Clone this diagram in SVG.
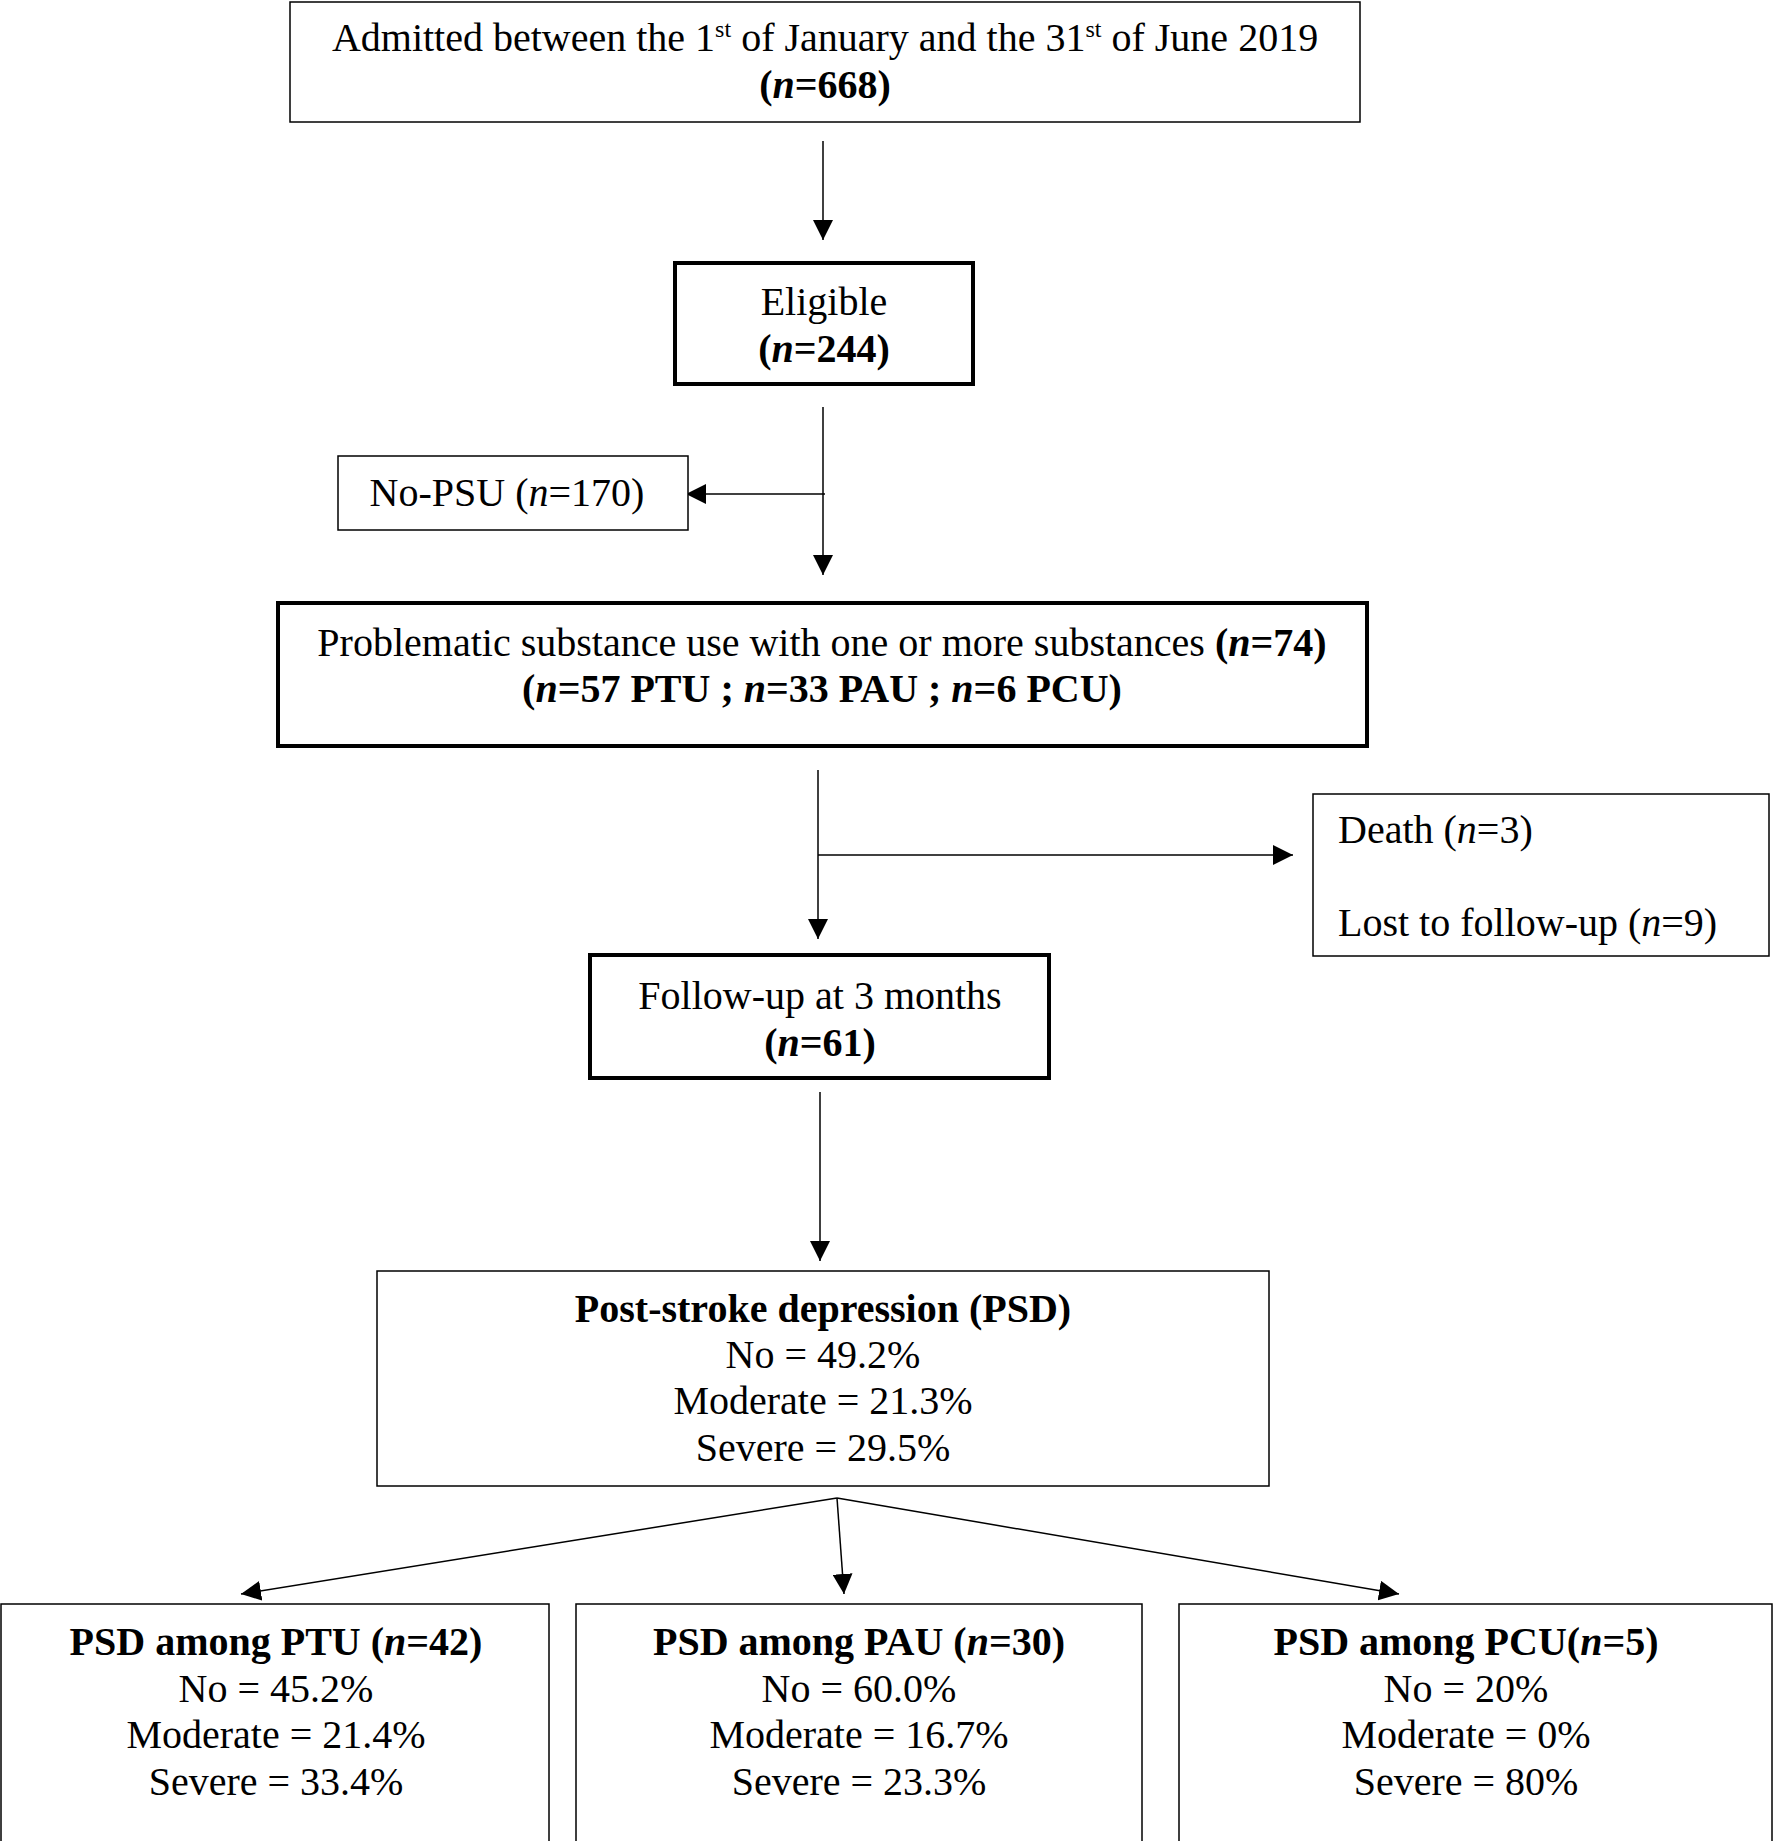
<svg xmlns="http://www.w3.org/2000/svg" width="1773" height="1841" viewBox="0 0 1773 1841">
<style>
text{font-family:"Liberation Serif","Times New Roman",serif;font-size:40px;fill:#000;text-anchor:middle}
.b{font-weight:bold}
.l{text-anchor:start}
.thin{fill:#fff;stroke:#000;stroke-width:1.5}
.thick{fill:#fff;stroke:#000;stroke-width:4}
.c{stroke:#000;stroke-width:1.5;fill:none}
</style>
<defs><marker id="a" viewBox="0 0 10 10" refX="10" refY="5" markerWidth="20" markerHeight="20" markerUnits="userSpaceOnUse" orient="auto"><path d="M0,0L10,5L0,10z" fill="#000"/></marker></defs>
<rect width="1773" height="1841" fill="#fff"/>
<g id="connectors">
<line class="c" x1="823" y1="141" x2="823" y2="240" marker-end="url(#a)"/>
<line class="c" x1="823" y1="407" x2="823" y2="575" marker-end="url(#a)"/>
<line class="c" x1="825" y1="494" x2="686" y2="494" marker-end="url(#a)"/>
<line class="c" x1="818" y1="770" x2="818" y2="939" marker-end="url(#a)"/>
<line class="c" x1="818" y1="855" x2="1293" y2="855" marker-end="url(#a)"/>
<line class="c" x1="820" y1="1092" x2="820" y2="1261" marker-end="url(#a)"/>
<line class="c" x1="837" y1="1498" x2="241" y2="1594" marker-end="url(#a)"/>
<line class="c" x1="837" y1="1498" x2="844" y2="1594" marker-end="url(#a)"/>
<line class="c" x1="837" y1="1498" x2="1399" y2="1594" marker-end="url(#a)"/>
</g>
<g id="admitted"><rect class="thin" x="290" y="2" width="1070" height="120"/>
<text x="825" y="51">Admitted between the 1<tspan font-size="24" dy="-14">st</tspan><tspan dy="14"> of January and the 31</tspan><tspan font-size="24" dy="-14">st</tspan><tspan dy="14"> of June 2019</tspan></text>
<text x="825" y="98" class="b">(<tspan font-style="italic">n</tspan>=668)</text></g>
<g id="eligible"><rect class="thick" x="675" y="263" width="298" height="121"/>
<text x="824" y="315">Eligible</text><text x="824" y="362" class="b">(<tspan font-style="italic">n</tspan>=244)</text></g>
<g id="nopsu"><rect class="thin" x="338" y="456" width="350" height="74"/>
<text x="507" y="506">No-PSU (<tspan font-style="italic">n</tspan>=170)</text></g>
<g id="psu"><rect class="thick" x="278" y="603" width="1089" height="143"/>
<text x="822" y="656">Problematic substance use with one or more substances <tspan class="b">(<tspan font-style="italic">n</tspan>=74)</tspan></text>
<text x="822" y="702" class="b">(<tspan font-style="italic">n</tspan>=57 PTU ; <tspan font-style="italic">n</tspan>=33 PAU ; <tspan font-style="italic">n</tspan>=6 PCU)</text></g>
<g id="death"><rect class="thin" x="1313" y="794" width="456" height="162"/>
<text x="1338" y="843" class="l">Death (<tspan font-style="italic">n</tspan>=3)</text>
<text x="1338" y="936" class="l">Lost to follow-up (<tspan font-style="italic">n</tspan>=9)</text></g>
<g id="followup"><rect class="thick" x="590" y="955" width="459" height="123"/>
<text x="820" y="1009">Follow-up at 3 months</text><text x="820" y="1056" class="b">(<tspan font-style="italic">n</tspan>=61)</text></g>
<g id="psd"><rect class="thin" x="377" y="1271" width="892" height="215"/>
<text x="823" y="1322" class="b">Post-stroke depression (PSD)</text>
<text x="823" y="1368">No = 49.2%</text><text x="823" y="1414">Moderate = 21.3%</text><text x="823" y="1461">Severe = 29.5%</text></g>
<g id="ptu"><rect class="thin" x="1" y="1604" width="548" height="240"/>
<text x="276" y="1655" class="b">PSD among PTU (<tspan font-style="italic">n</tspan>=42)</text>
<text x="276" y="1702">No = 45.2%</text><text x="276" y="1748">Moderate = 21.4%</text><text x="276" y="1795">Severe = 33.4%</text></g>
<g id="pau"><rect class="thin" x="576" y="1604" width="566" height="240"/>
<text x="859" y="1655" class="b">PSD among PAU (<tspan font-style="italic">n</tspan>=30)</text>
<text x="859" y="1702">No = 60.0%</text><text x="859" y="1748">Moderate = 16.7%</text><text x="859" y="1795">Severe = 23.3%</text></g>
<g id="pcu"><rect class="thin" x="1179" y="1604" width="593" height="240"/>
<text x="1466" y="1655" class="b">PSD among PCU(<tspan font-style="italic">n</tspan>=5)</text>
<text x="1466" y="1702">No = 20%</text><text x="1466" y="1748">Moderate = 0%</text><text x="1466" y="1795">Severe = 80%</text></g>
</svg>
